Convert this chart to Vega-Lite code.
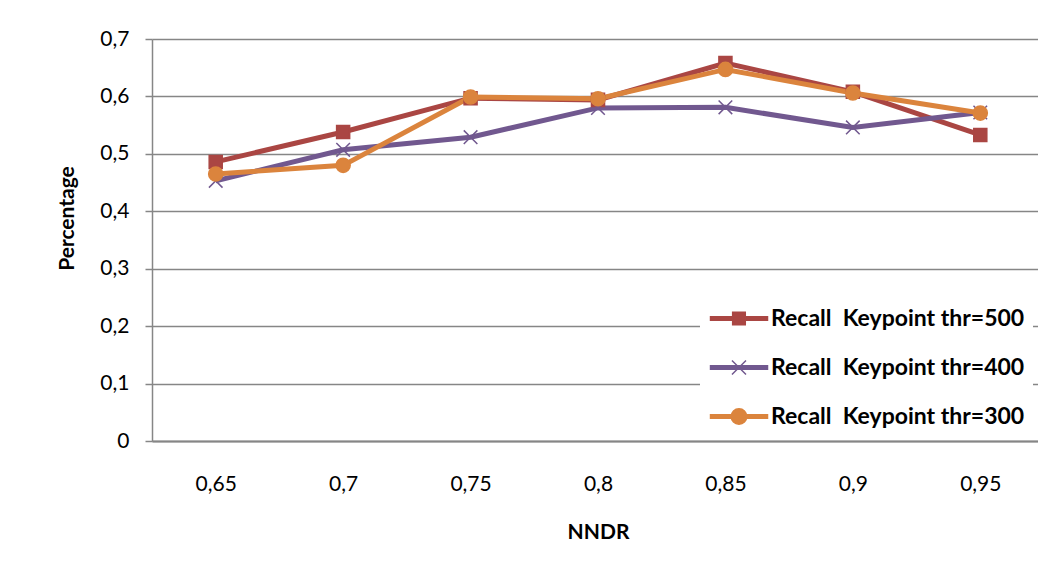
{
  "$schema": "https://vega.github.io/schema/vega-lite/v6.json",
  "width": 892,
  "height": 402,
  "autosize": {"type": "none"},
  "padding": {"left": 152, "top": 39, "right": 0, "bottom": 139},
  "background": "white",
  "config": {"font": "Lato", "view": {"stroke": null}},
  "data": {
    "values": [
      {"NNDR": "0,65", "series": "Recall\u00a0 Keypoint thr=500", "value": 0.486},
      {"NNDR": "0,7", "series": "Recall\u00a0 Keypoint thr=500", "value": 0.538},
      {"NNDR": "0,75", "series": "Recall\u00a0 Keypoint thr=500", "value": 0.597},
      {"NNDR": "0,8", "series": "Recall\u00a0 Keypoint thr=500", "value": 0.594},
      {"NNDR": "0,85", "series": "Recall\u00a0 Keypoint thr=500", "value": 0.658},
      {"NNDR": "0,9", "series": "Recall\u00a0 Keypoint thr=500", "value": 0.608},
      {"NNDR": "0,95", "series": "Recall\u00a0 Keypoint thr=500", "value": 0.533},
      {"NNDR": "0,65", "series": "Recall\u00a0 Keypoint thr=400", "value": 0.453},
      {"NNDR": "0,7", "series": "Recall\u00a0 Keypoint thr=400", "value": 0.507},
      {"NNDR": "0,75", "series": "Recall\u00a0 Keypoint thr=400", "value": 0.529},
      {"NNDR": "0,8", "series": "Recall\u00a0 Keypoint thr=400", "value": 0.580},
      {"NNDR": "0,85", "series": "Recall\u00a0 Keypoint thr=400", "value": 0.581},
      {"NNDR": "0,9", "series": "Recall\u00a0 Keypoint thr=400", "value": 0.546},
      {"NNDR": "0,95", "series": "Recall\u00a0 Keypoint thr=400", "value": 0.572},
      {"NNDR": "0,65", "series": "Recall\u00a0 Keypoint thr=300", "value": 0.465},
      {"NNDR": "0,7", "series": "Recall\u00a0 Keypoint thr=300", "value": 0.480},
      {"NNDR": "0,75", "series": "Recall\u00a0 Keypoint thr=300", "value": 0.599},
      {"NNDR": "0,8", "series": "Recall\u00a0 Keypoint thr=300", "value": 0.596},
      {"NNDR": "0,85", "series": "Recall\u00a0 Keypoint thr=300", "value": 0.647},
      {"NNDR": "0,9", "series": "Recall\u00a0 Keypoint thr=300", "value": 0.606},
      {"NNDR": "0,95", "series": "Recall\u00a0 Keypoint thr=300", "value": 0.571}
    ]
  },
  "encoding": {
    "x": {
      "field": "NNDR",
      "type": "ordinal",
      "sort": null,
      "scale": {"type": "point", "padding": 0.5},
      "axis": {
        "labelAngle": 0,
        "ticks": false,
        "grid": false,
        "domainColor": "#868686",
        "domainWidth": 2,
        "labelPadding": 32,
        "labelFontSize": 21,
        "labelColor": "#000000",
        "title": "NNDR",
        "titleFontSize": 21,
        "titleFontWeight": "bold",
        "titleColor": "#000000",
        "titlePadding": 27
      }
    },
    "y": {
      "field": "value",
      "type": "quantitative",
      "scale": {"domain": [0, 0.7], "nice": false},
      "axis": {
        "values": [0, 0.1, 0.2, 0.3, 0.4, 0.5, 0.6, 0.7],
        "labelExpr": "replace(format(datum.value, '.1~f'), '.', ',')",
        "grid": true,
        "gridColor": "#868686",
        "gridWidth": 1.5,
        "domainColor": "#868686",
        "domainWidth": 1.5,
        "tickColor": "#868686",
        "tickSize": 7,
        "tickWidth": 1.5,
        "labelFontSize": 21,
        "labelColor": "#000000",
        "labelPadding": 16,
        "title": "Percentage",
        "titleFontSize": 21,
        "titleFontWeight": "bold",
        "titleColor": "#000000",
        "titlePadding": 22,
        "titleY": 179
      }
    }
  },
  "layer": [
    {
      "mark": {"type": "line", "strokeWidth": 5},
      "encoding": {
        "color": {
          "field": "series",
          "type": "nominal",
          "scale": {
            "domain": ["Recall\u00a0 Keypoint thr=500", "Recall\u00a0 Keypoint thr=400", "Recall\u00a0 Keypoint thr=300"],
            "range": ["#AA4643", "#71588F", "#DB843D"]
          },
          "legend": null
        }
      }
    },
    {
      "mark": {"type": "point", "filled": true, "strokeWidth": 1.5, "opacity": 1},
      "encoding": {
        "color": {"field": "series", "type": "nominal", "legend": null},
        "stroke": {
          "field": "series",
          "type": "nominal",
          "scale": {
            "domain": ["Recall\u00a0 Keypoint thr=500", "Recall\u00a0 Keypoint thr=400", "Recall\u00a0 Keypoint thr=300"],
            "range": ["#AA4643", "#71588F", "#DB843D"]
          },
          "legend": null
        },
        "shape": {
          "field": "series",
          "type": "nominal",
          "scale": {
            "domain": ["Recall\u00a0 Keypoint thr=500", "Recall\u00a0 Keypoint thr=400", "Recall\u00a0 Keypoint thr=300"],
            "range": ["square", "M-1,-1L1,1M-1,1L1,-1", "circle"]
          },
          "legend": null
        },
        "size": {
          "field": "series",
          "type": "nominal",
          "scale": {
            "domain": ["Recall\u00a0 Keypoint thr=500", "Recall\u00a0 Keypoint thr=400", "Recall\u00a0 Keypoint thr=300"],
            "range": [170, 200, 260]
          },
          "legend": null
        }
      }
    },
    {
      "transform": [{"filter": "datum.value < 0"}],
      "mark": {"type": "point", "filled": true, "strokeWidth": 1.5, "opacity": 1},
      "encoding": {
        "fill": {
          "field": "series",
          "type": "nominal",
          "scale": {
            "domain": ["Recall\u00a0 Keypoint thr=500", "Recall\u00a0 Keypoint thr=400", "Recall\u00a0 Keypoint thr=300"],
            "range": ["#AA4643", "#71588F", "#DB843D"]
          },
          "legend": {
            "orient": "none",
            "legendX": 548,
            "legendY": 260,
            "fillColor": "white",
            "padding": 8,
            "symbolSize": 324,
            "symbolOffset": 39,
            "symbolOpacity": 1,
            "symbolStrokeWidth": 1.5,
            "labelFontSize": 23,
            "labelFontWeight": "bold",
            "labelColor": "#000000",
            "labelOffset": 1,
            "labelLimit": 400,
            "rowPadding": 25,
            "title": null
          }
        },
        "stroke": {
          "field": "series",
          "type": "nominal",
          "scale": {
            "domain": ["Recall\u00a0 Keypoint thr=500", "Recall\u00a0 Keypoint thr=400", "Recall\u00a0 Keypoint thr=300"],
            "range": ["#AA4643", "#71588F", "#DB843D"]
          },
          "legend": {
            "orient": "none",
            "legendX": 548,
            "legendY": 260,
            "fillColor": "white",
            "padding": 8,
            "symbolSize": 324,
            "symbolOffset": 39,
            "symbolOpacity": 1,
            "symbolStrokeWidth": 1.5,
            "labelFontSize": 23,
            "labelFontWeight": "bold",
            "labelColor": "#000000",
            "labelOffset": 1,
            "labelLimit": 400,
            "rowPadding": 25,
            "title": null
          }
        },
        "shape": {
          "field": "series",
          "type": "nominal",
          "scale": {
            "domain": ["Recall\u00a0 Keypoint thr=500", "Recall\u00a0 Keypoint thr=400", "Recall\u00a0 Keypoint thr=300"],
            "range": [
              "M-5.33,-0.19H1V0.19H-5.33Z M-2.87,-0.7H-1.47V0.7H-2.87Z",
              "M-5.33,-0.19H1V0.19H-5.33Z M-2.95,-0.78L-1.39,0.78 M-2.95,0.78L-1.39,-0.78",
              "M-5.33,-0.19H1V0.19H-5.33Z M-1.31,0A0.86,0.86 0 1,1 -3.03,0A0.86,0.86 0 1,1 -1.31,0Z"
            ]
          },
          "legend": {
            "orient": "none",
            "legendX": 548,
            "legendY": 260,
            "fillColor": "white",
            "padding": 8,
            "symbolSize": 324,
            "symbolOffset": 39,
            "symbolOpacity": 1,
            "symbolStrokeWidth": 1.5,
            "labelFontSize": 23,
            "labelFontWeight": "bold",
            "labelColor": "#000000",
            "labelOffset": 1,
            "labelLimit": 400,
            "rowPadding": 25,
            "title": null
          }
        }
      }
    }
  ],
  "resolve": {"scale": {"shape": "independent", "stroke": "independent", "size": "independent", "fill": "independent"}}
}
